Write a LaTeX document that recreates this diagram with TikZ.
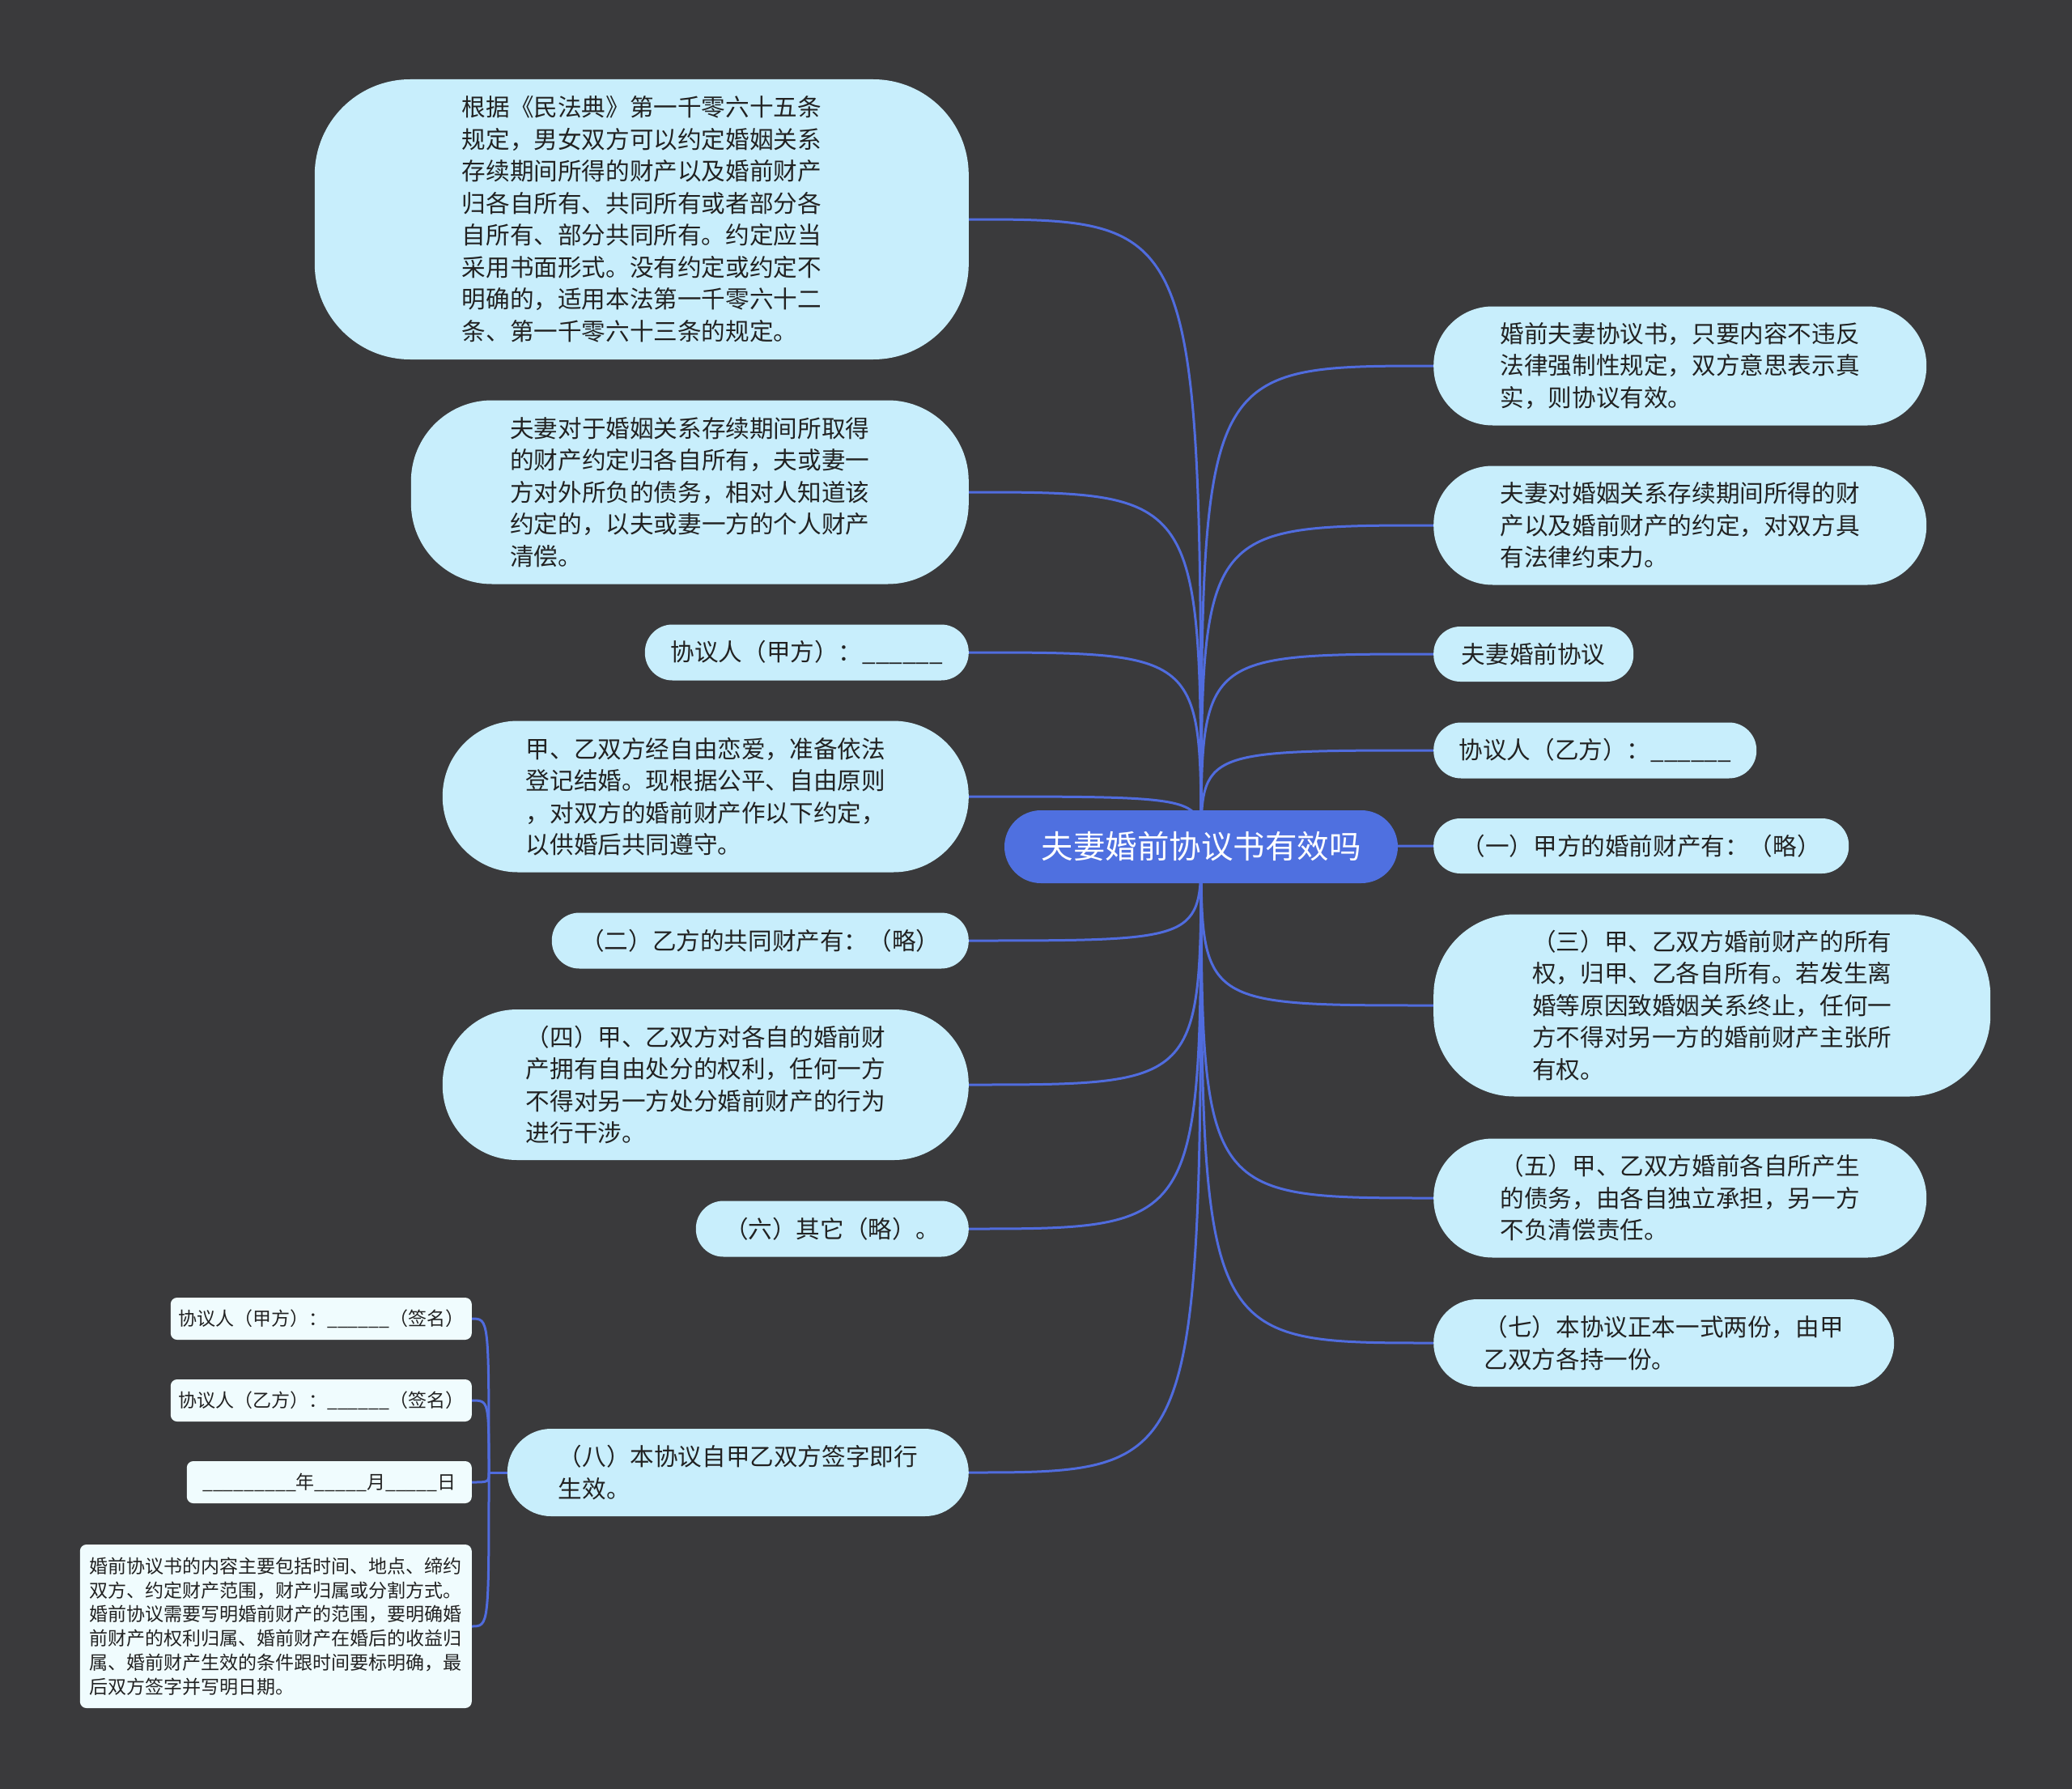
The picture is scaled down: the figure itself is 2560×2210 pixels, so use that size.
\documentclass[tikz,border=0pt]{standalone}
\usepackage{fontspec}
\setmainfont{Noto Sans CJK SC}
\usepackage{tikz}
\usetikzlibrary{backgrounds}
\definecolor{bgdark}{RGB}{58,58,60}
\definecolor{leaffill}{RGB}{200,238,252}
\definecolor{notefill}{RGB}{240,252,254}
\definecolor{topicblue}{RGB}{79,112,224}
\definecolor{linkblue}{RGB}{80,108,222}
\definecolor{inktext}{RGB}{34,34,34}
\pgfdeclarelayer{backdrop}
\pgfsetlayers{backdrop,background,main}
\tikzset{
  topic/.style = {rectangle, fill=topicblue, text=white, rounded corners=45pt,
                  minimum width=486pt, minimum height=90pt, inner sep=0pt,
                  font=\fontsize{39.5}{46}\selectfont},
  leaf/.style = {rectangle, fill=leaffill, text=inktext, inner sep=0pt,
                 align=left, font=\fontsize{29.6}{39.5}\selectfont},
  note/.style = {rectangle, fill=notefill, text=inktext, inner sep=0pt,
                 rounded corners=8pt, align=left,
                 font=\fontsize{23}{29.7}\selectfont},
  branch/.style = {draw=linkblue, line width=3pt}
}

\begin{document}
\begin{tikzpicture}[x=1pt, y=-1pt]
\begin{pgfonlayer}{backdrop}
\fill[bgdark] (0,0) rectangle (2560,2210);
\end{pgfonlayer}
\useasboundingbox (0,0) rectangle (2560,2210);

\node[topic] (root) at (1484,1046) {夫妻婚前协议书有效吗};

% left branches
\node[leaf, anchor=east, minimum width=808pt, minimum height=346pt, rounded corners=118pt] (law) at (1197,271)
  {根据《民法典》第一千零六十五条\\规定，男女双方可以约定婚姻关系\\存续期间所得的财产以及婚前财产\\归各自所有、共同所有或者部分各\\自所有、部分共同所有。约定应当\\采用书面形式。没有约定或约定不\\明确的，适用本法第一千零六十二\\条、第一千零六十三条的规定。};
\node[leaf, anchor=east, minimum width=689pt, minimum height=227pt, rounded corners=100pt] (debt) at (1197,608)
  {夫妻对于婚姻关系存续期间所取得\\的财产约定归各自所有，夫或妻一\\方对外所负的债务，相对人知道该\\约定的，以夫或妻一方的个人财产\\清偿。};
\node[leaf, anchor=east, minimum width=400pt, minimum height=69pt, rounded corners=34pt] (signa) at (1197,806)
  {协议人（甲方）：\_\_\_\_\_\_};
\node[leaf, anchor=east, minimum width=650pt, minimum height=187pt, rounded corners=93pt] (intro) at (1197,984)
  {甲、乙双方经自由恋爱，准备依法\\登记结婚。现根据公平、自由原则\\，对双方的婚前财产作以下约定，\\以供婚后共同遵守。};
\node[leaf, anchor=east, minimum width=515pt, minimum height=69pt, rounded corners=34pt] (partb) at (1197,1162)
  {（二）乙方的共同财产有：（略）};
\node[leaf, anchor=east, minimum width=650pt, minimum height=186pt, rounded corners=92pt] (dispose) at (1197,1340)
  {（四）甲、乙双方对各自的婚前财\\产拥有自由处分的权利，任何一方\\不得对另一方处分婚前财产的行为\\进行干涉。};
\node[leaf, anchor=east, minimum width=337pt, minimum height=69pt, rounded corners=34pt] (other) at (1197,1518)
  {（六）其它（略）。};
\node[leaf, anchor=east, minimum width=570pt, minimum height=108pt, rounded corners=54pt] (effect) at (1197,1819)
  {（八）本协议自甲乙双方签字即行\\生效。};

% right branches
\node[leaf, anchor=west, minimum width=609pt, minimum height=147pt, rounded corners=73pt] (valid) at (1771,452)
  {婚前夫妻协议书，只要内容不违反\\法律强制性规定，双方意思表示真\\实，则协议有效。};
\node[leaf, anchor=west, minimum width=609pt, minimum height=147pt, rounded corners=73pt] (bind) at (1771,649)
  {夫妻对婚姻关系存续期间所得的财\\产以及婚前财产的约定，对双方具\\有法律约束力。};
\node[leaf, anchor=west, minimum width=247pt, minimum height=68pt, rounded corners=33pt] (title) at (1771,808)
  {夫妻婚前协议};
\node[leaf, anchor=west, minimum width=399pt, minimum height=69pt, rounded corners=34pt] (signb) at (1771,927)
  {协议人（乙方）：\_\_\_\_\_\_};
\node[leaf, anchor=west, minimum width=513pt, minimum height=68pt, rounded corners=33pt] (parta) at (1771,1045)
  {（一）甲方的婚前财产有：（略）};
\node[leaf, anchor=west, minimum width=688pt, minimum height=225pt, rounded corners=100pt] (owner) at (1771,1242)
  {（三）甲、乙双方婚前财产的所有\\权，归甲、乙各自所有。若发生离\\婚等原因致婚姻关系终止，任何一\\方不得对另一方的婚前财产主张所\\有权。};
\node[leaf, anchor=west, minimum width=609pt, minimum height=147pt, rounded corners=73pt] (debts) at (1771,1480)
  {（五）甲、乙双方婚前各自所产生\\的债务，由各自独立承担，另一方\\不负清偿责任。};
\node[leaf, anchor=west, minimum width=569pt, minimum height=108pt, rounded corners=54pt] (copies) at (1771,1659)
  {（七）本协议正本一式两份，由甲\\乙双方各持一份。};

% signature notes
\coordinate (hub) at (604,1819);
\node[note, anchor=east, minimum width=372pt, minimum height=52pt] (signfa) at (583,1629)
  {协议人（甲方）：\_\_\_\_\_\_（签名）};
\node[note, anchor=east, minimum width=372pt, minimum height=52pt] (signfb) at (583,1730)
  {协议人（乙方）：\_\_\_\_\_\_（签名）};
\node[note, anchor=east, minimum width=352pt, minimum height=52pt] (date) at (583,1831)
  {\_\_\_\_\_\_\_\_\_年\_\_\_\_\_月\_\_\_\_\_日};
\node[note, anchor=east, minimum width=484pt, minimum height=202pt] (tip) at (583,2009)
  {婚前协议书的内容主要包括时间、地点、缔约\\双方、约定财产范围，财产归属或分割方式。\\婚前协议需要写明婚前财产的范围，要明确婚\\前财产的权利归属、婚前财产在婚后的收益归\\属、婚前财产生效的条件跟时间要标明确，最\\后双方签字并写明日期。};

\begin{scope}[on background layer]
\draw[branch] (root.center) .. controls (root.center |- law.east) .. (law.east);
\draw[branch] (root.center) .. controls (root.center |- debt.east) .. (debt.east);
\draw[branch] (root.center) .. controls (root.center |- signa.east) .. (signa.east);
\draw[branch] (root.center) .. controls (root.center |- intro.east) .. (intro.east);
\draw[branch] (root.center) .. controls (root.center |- partb.east) .. (partb.east);
\draw[branch] (root.center) .. controls (root.center |- dispose.east) .. (dispose.east);
\draw[branch] (root.center) .. controls (root.center |- other.east) .. (other.east);
\draw[branch] (root.center) .. controls (root.center |- effect.east) .. (effect.east);
\draw[branch] (root.center) .. controls (root.center |- valid.west) .. (valid.west);
\draw[branch] (root.center) .. controls (root.center |- bind.west) .. (bind.west);
\draw[branch] (root.center) .. controls (root.center |- title.west) .. (title.west);
\draw[branch] (root.center) .. controls (root.center |- signb.west) .. (signb.west);
\draw[branch] (root.center) .. controls (root.center |- parta.west) .. (parta.west);
\draw[branch] (root.center) .. controls (root.center |- owner.west) .. (owner.west);
\draw[branch] (root.center) .. controls (root.center |- debts.west) .. (debts.west);
\draw[branch] (root.center) .. controls (root.center |- copies.west) .. (copies.west);
\draw[branch] (effect.west) -- (hub);
\draw[branch] (hub) .. controls (hub |- signfa.east) .. (signfa.east);
\draw[branch] (hub) .. controls (hub |- signfb.east) .. (signfb.east);
\draw[branch] (hub) .. controls (hub |- date.east) .. (date.east);
\draw[branch] (hub) .. controls (hub |- tip.east) .. (tip.east);
\end{scope}
\end{tikzpicture}
\end{document}
